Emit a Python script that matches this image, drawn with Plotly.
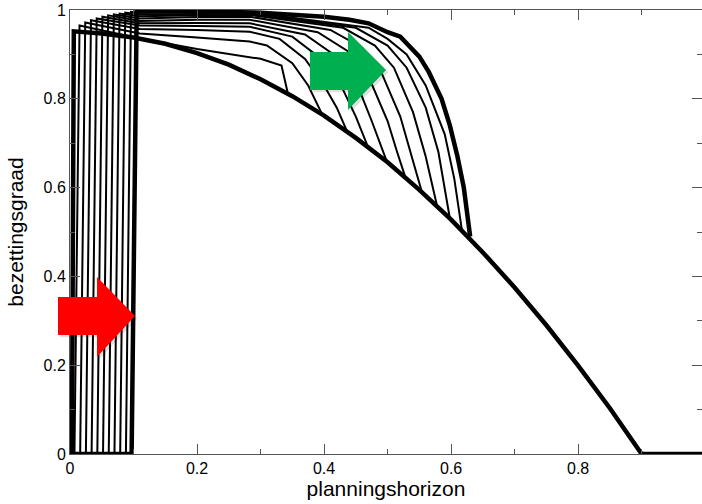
import plotly.graph_objects as go

# ---- data ----
lower_x = [0.003, 0.006, 0.05, 0.1, 0.15, 0.2, 0.25, 0.3, 0.35, 0.4, 0.45, 0.5, 0.55, 0.6, 0.65, 0.7, 0.75, 0.8, 0.85, 0.9, 0.995]
lower_y = [0, 0.952, 0.947, 0.938, 0.924, 0.903, 0.877, 0.844, 0.806, 0.762, 0.712, 0.657, 0.595, 0.528, 0.454, 0.375, 0.290, 0.199, 0.103, 0.0, 0.0]

upper_x = [0.003, 0.097, 0.105, 0.2, 0.3, 0.36, 0.40, 0.44, 0.47, 0.50, 0.52, 0.55, 0.565, 0.575, 0.585, 0.598, 0.61, 0.62, 0.625, 0.63]
upper_y = [0, 0, 0.997, 0.997, 0.994, 0.99, 0.985, 0.978, 0.97, 0.95, 0.94, 0.895, 0.86, 0.83, 0.80, 0.74, 0.67, 0.60, 0.545, 0.49]

thin_x = [
    [0.003, 0.007, 0.015, 0.11, 0.2, 0.283, 0.30, 0.333, 0.343],
    [0.003, 0.016, 0.024, 0.11, 0.2, 0.283, 0.31, 0.35, 0.375, 0.397],
    [0.003, 0.025, 0.033, 0.11, 0.2, 0.283, 0.33, 0.37, 0.40, 0.42, 0.436],
    [0.003, 0.034, 0.042, 0.11, 0.2, 0.283, 0.35, 0.40, 0.43, 0.45, 0.469],
    [0.003, 0.043, 0.051, 0.11, 0.2, 0.283, 0.37, 0.42, 0.45, 0.475, 0.499],
    [0.003, 0.052, 0.060, 0.11, 0.2, 0.283, 0.39, 0.44, 0.47, 0.50, 0.515, 0.528],
    [0.003, 0.061, 0.069, 0.11, 0.2, 0.283, 0.41, 0.46, 0.49, 0.52, 0.54, 0.554],
    [0.003, 0.070, 0.078, 0.11, 0.2, 0.283, 0.43, 0.48, 0.51, 0.54, 0.56, 0.578],
    [0.003, 0.079, 0.087, 0.11, 0.2, 0.283, 0.45, 0.50, 0.53, 0.56, 0.58, 0.598],
    [0.003, 0.088, 0.096, 0.11, 0.2, 0.283, 0.47, 0.50, 0.53, 0.56, 0.59, 0.605, 0.617],
]
thin_y = [
    [0, 0, 0.965, 0.936, 0.912, 0.895, 0.89, 0.875, 0.812],
    [0, 0, 0.972, 0.947, 0.938, 0.929, 0.92, 0.88, 0.83, 0.765],
    [0, 0, 0.977, 0.957, 0.955, 0.951, 0.935, 0.89, 0.83, 0.78, 0.727],
    [0, 0, 0.981, 0.965, 0.964, 0.962, 0.94, 0.885, 0.82, 0.76, 0.692],
    [0, 0, 0.985, 0.970, 0.971, 0.970, 0.945, 0.895, 0.84, 0.75, 0.658],
    [0, 0, 0.988, 0.975, 0.978, 0.978, 0.95, 0.905, 0.85, 0.75, 0.68, 0.623],
    [0, 0, 0.990, 0.981, 0.984, 0.985, 0.955, 0.915, 0.86, 0.76, 0.66, 0.590],
    [0, 0, 0.992, 0.986, 0.988, 0.989, 0.96, 0.92, 0.87, 0.77, 0.67, 0.558],
    [0, 0, 0.994, 0.990, 0.991, 0.992, 0.96, 0.92, 0.87, 0.78, 0.68, 0.531],
    [0, 0, 0.996, 0.994, 0.995, 0.995, 0.96, 0.935, 0.90, 0.83, 0.72, 0.62, 0.504],
]

x_title = "planningshorizon"
y_title = "bezettingsgraad"

fig = go.Figure()
for xs, ys in zip(thin_x, thin_y):
    fig.add_trace(go.Scatter(x=xs, y=ys, mode="lines", line=dict(color="black", width=2),
                             showlegend=False, hoverinfo="skip", cliponaxis=False))
fig.add_trace(go.Scatter(x=upper_x, y=upper_y, mode="lines", line=dict(color="black", width=4.5),
                         showlegend=False, hoverinfo="skip", cliponaxis=False))
fig.add_trace(go.Scatter(x=lower_x, y=lower_y, mode="lines", line=dict(color="black", width=4.5),
                         showlegend=False, hoverinfo="skip", cliponaxis=False, yaxis="y2"))

# block arrows (paper coordinates)
def arrow_path(x0, x1, x2, yb0, yb1, yh0, yh1, ym):
    return (f"M{x0},{yb0} L{x1},{yb0} L{x1},{yh0} L{x2},{ym} L{x1},{yh1} "
            f"L{x1},{yb1} L{x0},{yb1} Z")

shapes = []
shapes.append(dict(type="path", xref="paper", yref="paper",
                   path=arrow_path(0.384, 0.444, 0.504, 0.9004, 0.8148, 0.9455, 0.7698, 0.8599),
                   fillcolor="rgba(0,0,0,0.12)", line=dict(width=0), layer="above"))
shapes.append(dict(type="path", xref="paper", yref="paper",
                   path=arrow_path(-0.015, 0.0467, 0.1068, 0.3486, 0.263, 0.3936, 0.2135, 0.3058),
                   fillcolor="rgba(0,0,0,0.12)", line=dict(width=0), layer="above"))
shapes.append(dict(type="path", xref="paper", yref="paper",
                   path=arrow_path(0.3797, 0.4399, 0.5, 0.9054, 0.8198, 0.9505, 0.7748, 0.8649),
                   fillcolor="#00B050", line=dict(width=0), layer="above"))
shapes.append(dict(type="path", xref="paper", yref="paper",
                   path=arrow_path(-0.019, 0.0427, 0.1028, 0.3536, 0.268, 0.3986, 0.2185, 0.3108),
                   fillcolor="#FF0000", line=dict(width=0), layer="above"))

font_family = "Liberation Sans, Arial, sans-serif"
axis_font = dict(family=font_family, size=16, color="black")
fig.update_layout(
    width=702, height=504,
    margin=dict(l=70, r=0, t=10, b=50, autoexpand=False),
    paper_bgcolor="white", plot_bgcolor="white",
    shapes=shapes,
    hovermode=False,
    xaxis=dict(range=[0, 0.995], dtick=0.2, tick0=0, ticks="inside", ticklen=10, tickcolor="#555",
               showline=True, linecolor="#555", linewidth=1, mirror="ticks", automargin=False,
               ticklabeloverflow="allow",
               minor=dict(dtick=0.1, ticks="inside", ticklen=5, tickcolor="#555"),
               showgrid=False, zeroline=False, tickfont=axis_font,
               title=dict(text=x_title, font=dict(family=font_family, size=21, color="black"), standoff=0)),
    yaxis=dict(range=[0, 1], dtick=0.2, tick0=0, ticks="inside", ticklen=10, tickcolor="#555",
               showline=True, linecolor="#555", linewidth=1, automargin=False,
               ticklabeloverflow="allow",
               minor=dict(dtick=0.1, ticks="inside", ticklen=5, tickcolor="#555"),
               showgrid=False, zeroline=False, tickfont=axis_font,
               title=dict(text=y_title, font=dict(family=font_family, size=21, color="black"), standoff=14)),
    yaxis2=dict(range=[0, 1], overlaying="y", side="right", dtick=0.2, tick0=0, ticks="inside",
                ticklen=10, tickcolor="#555", showline=False, showticklabels=False, automargin=False,
                minor=dict(dtick=0.1, ticks="inside", ticklen=5, tickcolor="#555"),
                showgrid=False, zeroline=False),
)

fig.write_html("out.html", config={"displayModeBar": False},
               post_script="document.body.style.margin='0px';")
